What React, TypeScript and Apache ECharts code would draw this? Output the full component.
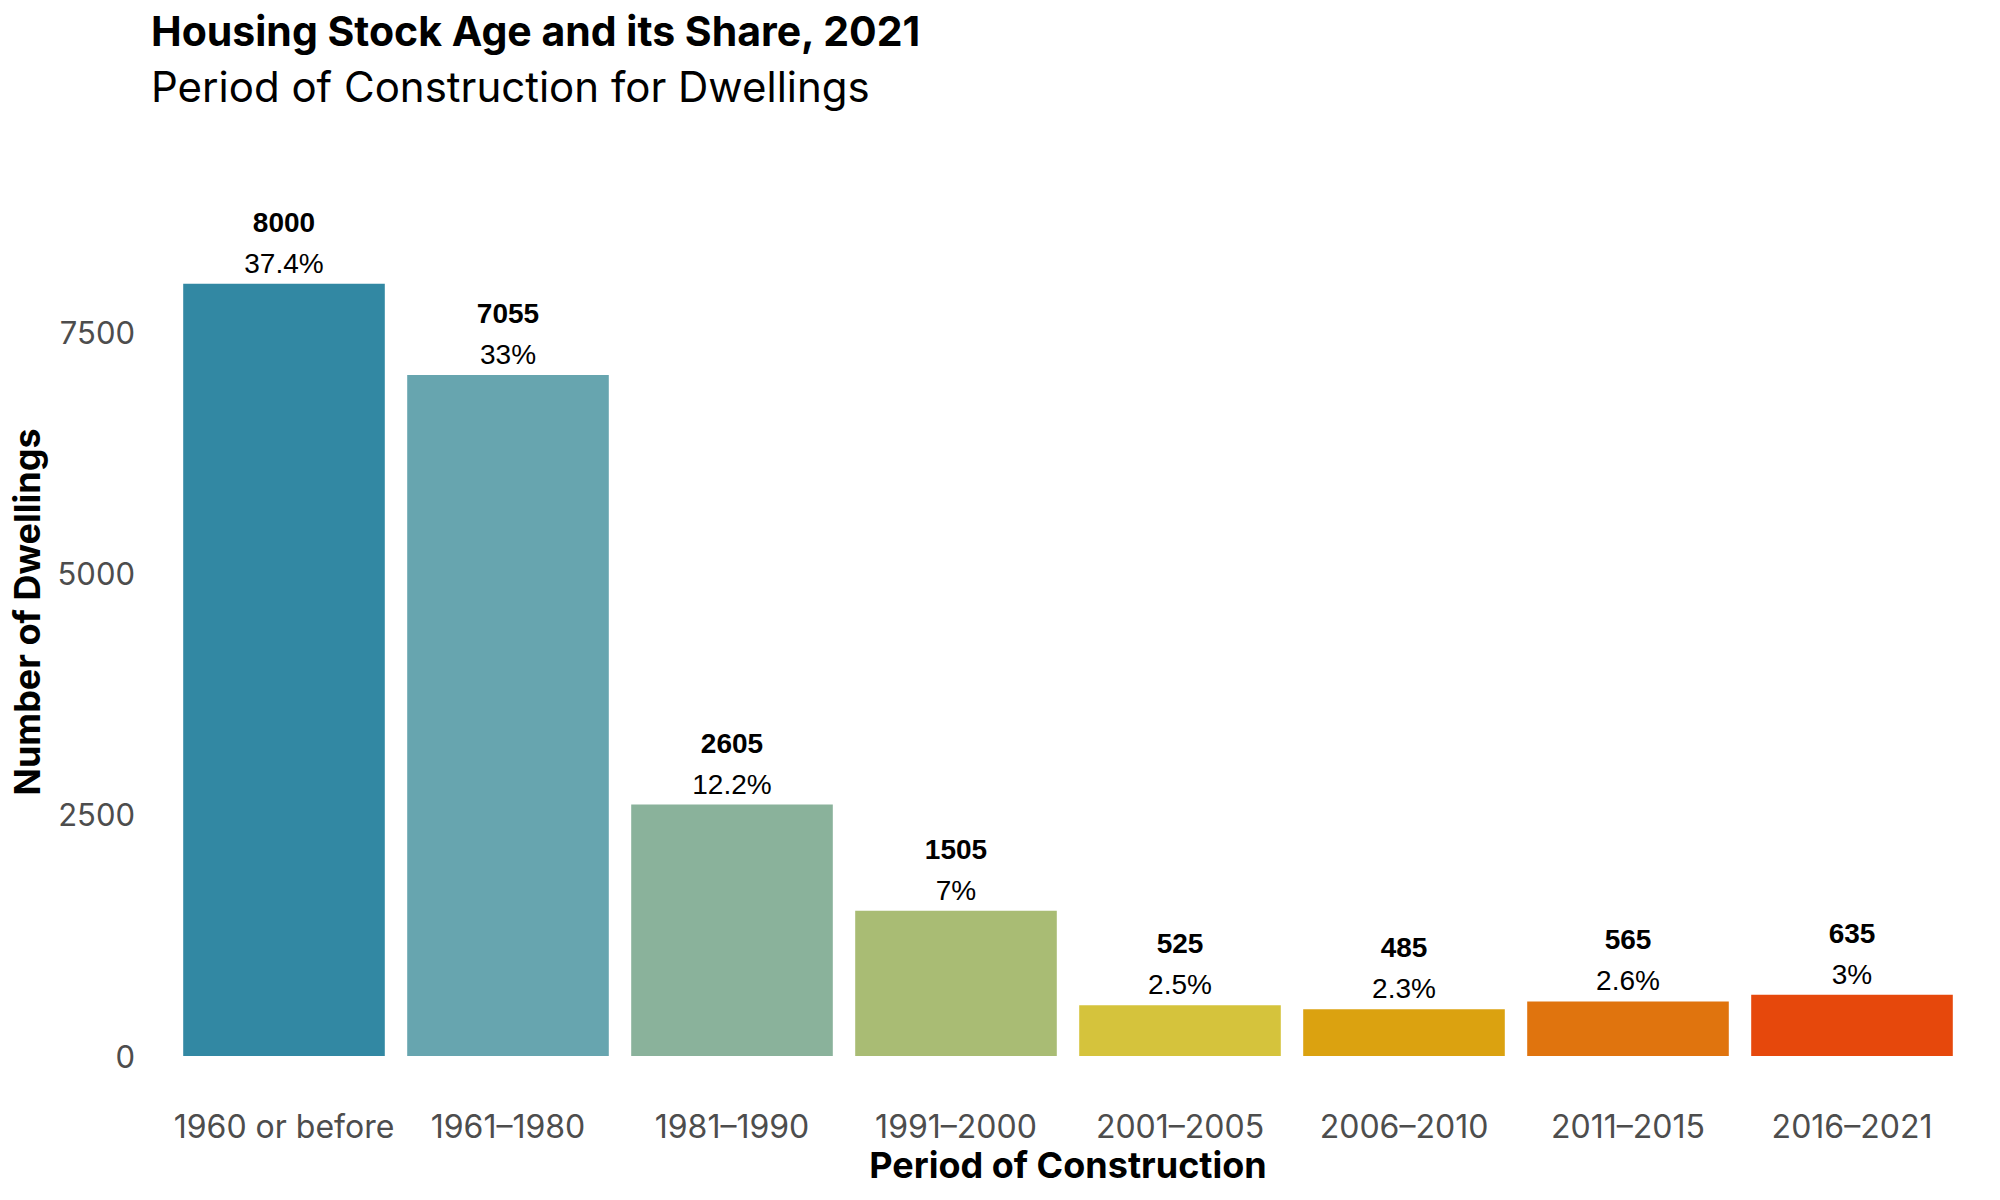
import React, { useEffect, useRef } from "react";
import * as echarts from "echarts";

const categories = ["1960 or before", "1961–1980", "1981–1990", "1991–2000", "2001–2005", "2006–2010", "2011–2015", "2016–2021"];
const dwellings = [8000, 7055, 2605, 1505, 525, 485, 565, 635];
const shares = ["37.4%", "33%", "12.2%", "7%", "2.5%", "2.3%", "2.6%", "3%"];
const barColors = ["#3288A3", "#67A5AF", "#8AB29B", "#A9BC74", "#D5C33C", "#DBA210", "#E0740E", "#E6480C"];
const titleText = "Housing Stock Age and its Share, 2021";
const subtitleText = "Period of Construction for Dwellings";
const xTitle = "Period of Construction";
const yTitle = "Number of Dwellings";

const FONT = "Liberation Sans, Arial, sans-serif";
const FONT2 = "Inter, Liberation Sans, sans-serif";

export default function App() {
  const ref = useRef<HTMLDivElement>(null);
  useEffect(() => {
    document.body.style.margin = "0";
    const chart = echarts.init(ref.current!, null, { renderer: "svg" });
    chart.setOption({
      animation: false,
      backgroundColor: "#ffffff",
      textStyle: { fontFamily: FONT },
      title: [
        { text: titleText, left: 146, top: 5, textStyle: { fontFamily: FONT2, fontSize: 41, fontWeight: "bold", color: "#000" } },
        { text: subtitleText, left: 146, top: 60, textStyle: { fontFamily: FONT2, fontSize: 42, fontWeight: "normal", color: "#000" } },
      ],
      grid: { left: 172, right: 36, top: 168, bottom: 144 },
      xAxis: {
        type: "category",
        data: categories,
        axisLine: { show: false },
        axisTick: { show: false },
        axisLabel: { color: "#4d4d4d", fontSize: 32, margin: 54, fontFamily: FONT2, interval: 0 },
        name: xTitle,
        nameLocation: "middle",
        nameGap: 90,
        nameTextStyle: { fontSize: 36, fontWeight: "bold", color: "#000", fontFamily: FONT2 },
      },
      yAxis: {
        type: "value",
        min: 0,
        max: 9200,
        interval: 2500,
        axisLine: { show: false },
        axisTick: { show: false },
        splitLine: { show: false },
        axisLabel: {
          color: "#4d4d4d",
          fontSize: 31,
          margin: 37,
          fontFamily: FONT2,
          showMaxLabel: false,
          formatter: (v: number) => String(v),
        },
        name: yTitle,
        nameLocation: "middle",
        nameRotate: 90,
        nameGap: 127,
        nameTextStyle: { fontSize: 36, fontWeight: "bold", color: "#000", fontFamily: FONT2 },
      },
      series: [
        {
          type: "bar",
          barCategoryGap: "10%",
          data: dwellings.map((v, i) => ({ value: v, itemStyle: { color: barColors[i] } })),
          label: {
            show: true,
            position: "top",
            distance: 0,
            formatter: (p: any) => `{v|${p.value}}\n{p|${shares[p.dataIndex]}}`,
            rich: {
              v: { fontFamily: FONT, fontSize: 28, fontWeight: "bold", color: "#000", lineHeight: 41 },
              p: { fontFamily: FONT, fontSize: 28, color: "#000", lineHeight: 41 },
            },
          },
        },
      ],
    });
    return () => chart.dispose();
  }, []);
  return <div ref={ref} style={{ width: 2000, height: 1200 }} />;
}
